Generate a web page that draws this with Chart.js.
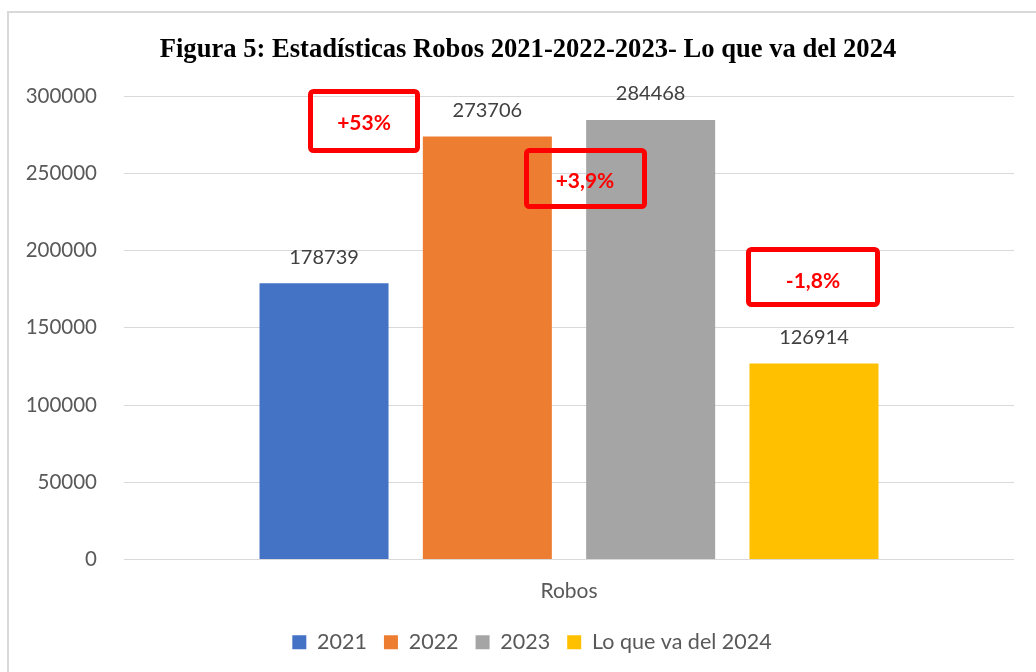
<!DOCTYPE html>
<html>
<head>
<meta charset="utf-8">
<script src="https://cdn.jsdelivr.net/npm/chart.js@4/dist/chart.umd.min.js"></script>
<style>
  html, body { margin: 0; padding: 0; background: #fff; }
  #wrap { width: 1036px; height: 672px; position: relative; }
</style>
</head>
<body>
<div id="wrap"><canvas id="robosChart" width="1036" height="672"></canvas></div>
<script>
const categories = ["Robos"];
const seriesNames = ["2021", "2022", "2023", "Lo que va del 2024"];
const seriesValues = [[178739], [273706], [284468], [126914]];
const seriesColors = ["#4472C4", "#ED7D31", "#A5A5A5", "#FFC000"];
const yTicks = [0, 50000, 100000, 150000, 200000, 250000, 300000];

const titleText = "Figura 5: Estadísticas Robos 2021-2022-2023- Lo que va del 2024";

// red callout boxes drawn over the chart
const callouts = [
  { text: "+53%",  x: 308, y: 89,  w: 112, h: 64, tx: 364, ty: 123 },
  { text: "+3,9%", x: 524, y: 148, w: 123, h: 61, tx: 585, ty: 181 },
  { text: "-1,8%", x: 746, y: 247, w: 134, h: 60, tx: 813, ty: 281 }
];

/* frame + title */
const framePlugin = {
  id: "frame",
  beforeDraw(chart) {
    const c = chart.ctx;
    c.save();
    c.fillStyle = "#fff";
    c.fillRect(0, 0, chart.width, chart.height);
    c.strokeStyle = "#d9d9d9";
    c.lineWidth = 2;
    c.beginPath();
    c.moveTo(8, chart.height + 5);
    c.lineTo(8, 12);
    c.lineTo(chart.width + 5, 12);
    c.stroke();
    c.restore();
  },
  afterLayout(chart) {
    // legend sits a bit right of centre in the original
    chart.legend.left += 26;
  },
  afterDraw(chart) {
    const c = chart.ctx;
    c.save();
    c.font = "bold 26.6px 'Liberation Serif', 'Times New Roman', serif";
    c.fillStyle = "#000";
    c.textAlign = "center";
    c.textBaseline = "alphabetic";
    c.fillText(titleText, 528, 57);
    c.restore();
  }
};

/* value labels above bars */
const valueLabels = {
  id: "valueLabels",
  afterDatasetsDraw(chart) {
    const c = chart.ctx;
    c.save();
    c.font = "20px Lato, sans-serif";
    c.fillStyle = "#404040";
    c.textAlign = "center";
    c.textBaseline = "middle";
    chart.data.datasets.forEach((ds, i) => {
      chart.getDatasetMeta(i).data.forEach((bar, j) => {
        c.fillText(String(ds.data[j]), bar.x, bar.y - 26);
      });
    });
    c.restore();
  }
};

/* callouts */
const calloutPlugin = {
  id: "callouts",
  afterDraw(chart) {
    const c = chart.ctx;
    c.save();
    callouts.forEach(b => {
      c.strokeStyle = "#FF0000";
      c.lineWidth = 5;
      c.beginPath();
      c.roundRect(b.x + 2.5, b.y + 2.5, b.w - 5, b.h - 5, 3);
      c.stroke();
      c.font = "bold 21px Lato, sans-serif";
      c.fillStyle = "#FF0000";
      c.textAlign = "center";
      c.textBaseline = "middle";
      c.fillText(b.text, b.tx, b.ty);
    });
    c.restore();
  }
};

const datasets = seriesNames.map((name, i) => ({
  label: name,
  data: seriesValues[i],
  backgroundColor: seriesColors[i],
  borderWidth: 0,
  categoryPercentage: 0.734,
  barPercentage: 0.79
}));

new Chart(document.getElementById("robosChart"), {
  type: "bar",
  data: { labels: categories, datasets: datasets },
  options: {
    responsive: false,
    animation: false,
    layout: { padding: { left: 24, right: 22, top: 96, bottom: 9 } },
    plugins: {
      title: { display: false },
      tooltip: { enabled: false },
      legend: {
        position: "bottom",
        labels: {
          boxWidth: 14,
          boxHeight: 14,
          padding: 17,
          color: "#595959",
          font: { family: "Lato", size: 21.5 }
        }
      }
    },
    scales: {
      x: {
        grid: { display: false },
        border: { display: false },
        ticks: { color: "#595959", font: { family: "Lato", size: 21 }, padding: 11 },
        afterFit(scale) { scale.height = 55; }
      },
      y: {
        min: 0,
        max: 300000,
        afterBuildTicks(scale) { scale.ticks = yTicks.map(v => ({ value: v })); },
        grid: { color: "#d9d9d9", lineWidth: 1, drawTicks: false },
        border: { display: false },
        ticks: {
          color: "#595959",
          font: { family: "Lato", size: 20.5 },
          padding: 27,
          callback: v => String(v)
        },
        afterFit(scale) { scale.width = 100; }
      }
    }
  },
  plugins: [framePlugin, valueLabels, calloutPlugin]
});
</script>
</body>
</html>
